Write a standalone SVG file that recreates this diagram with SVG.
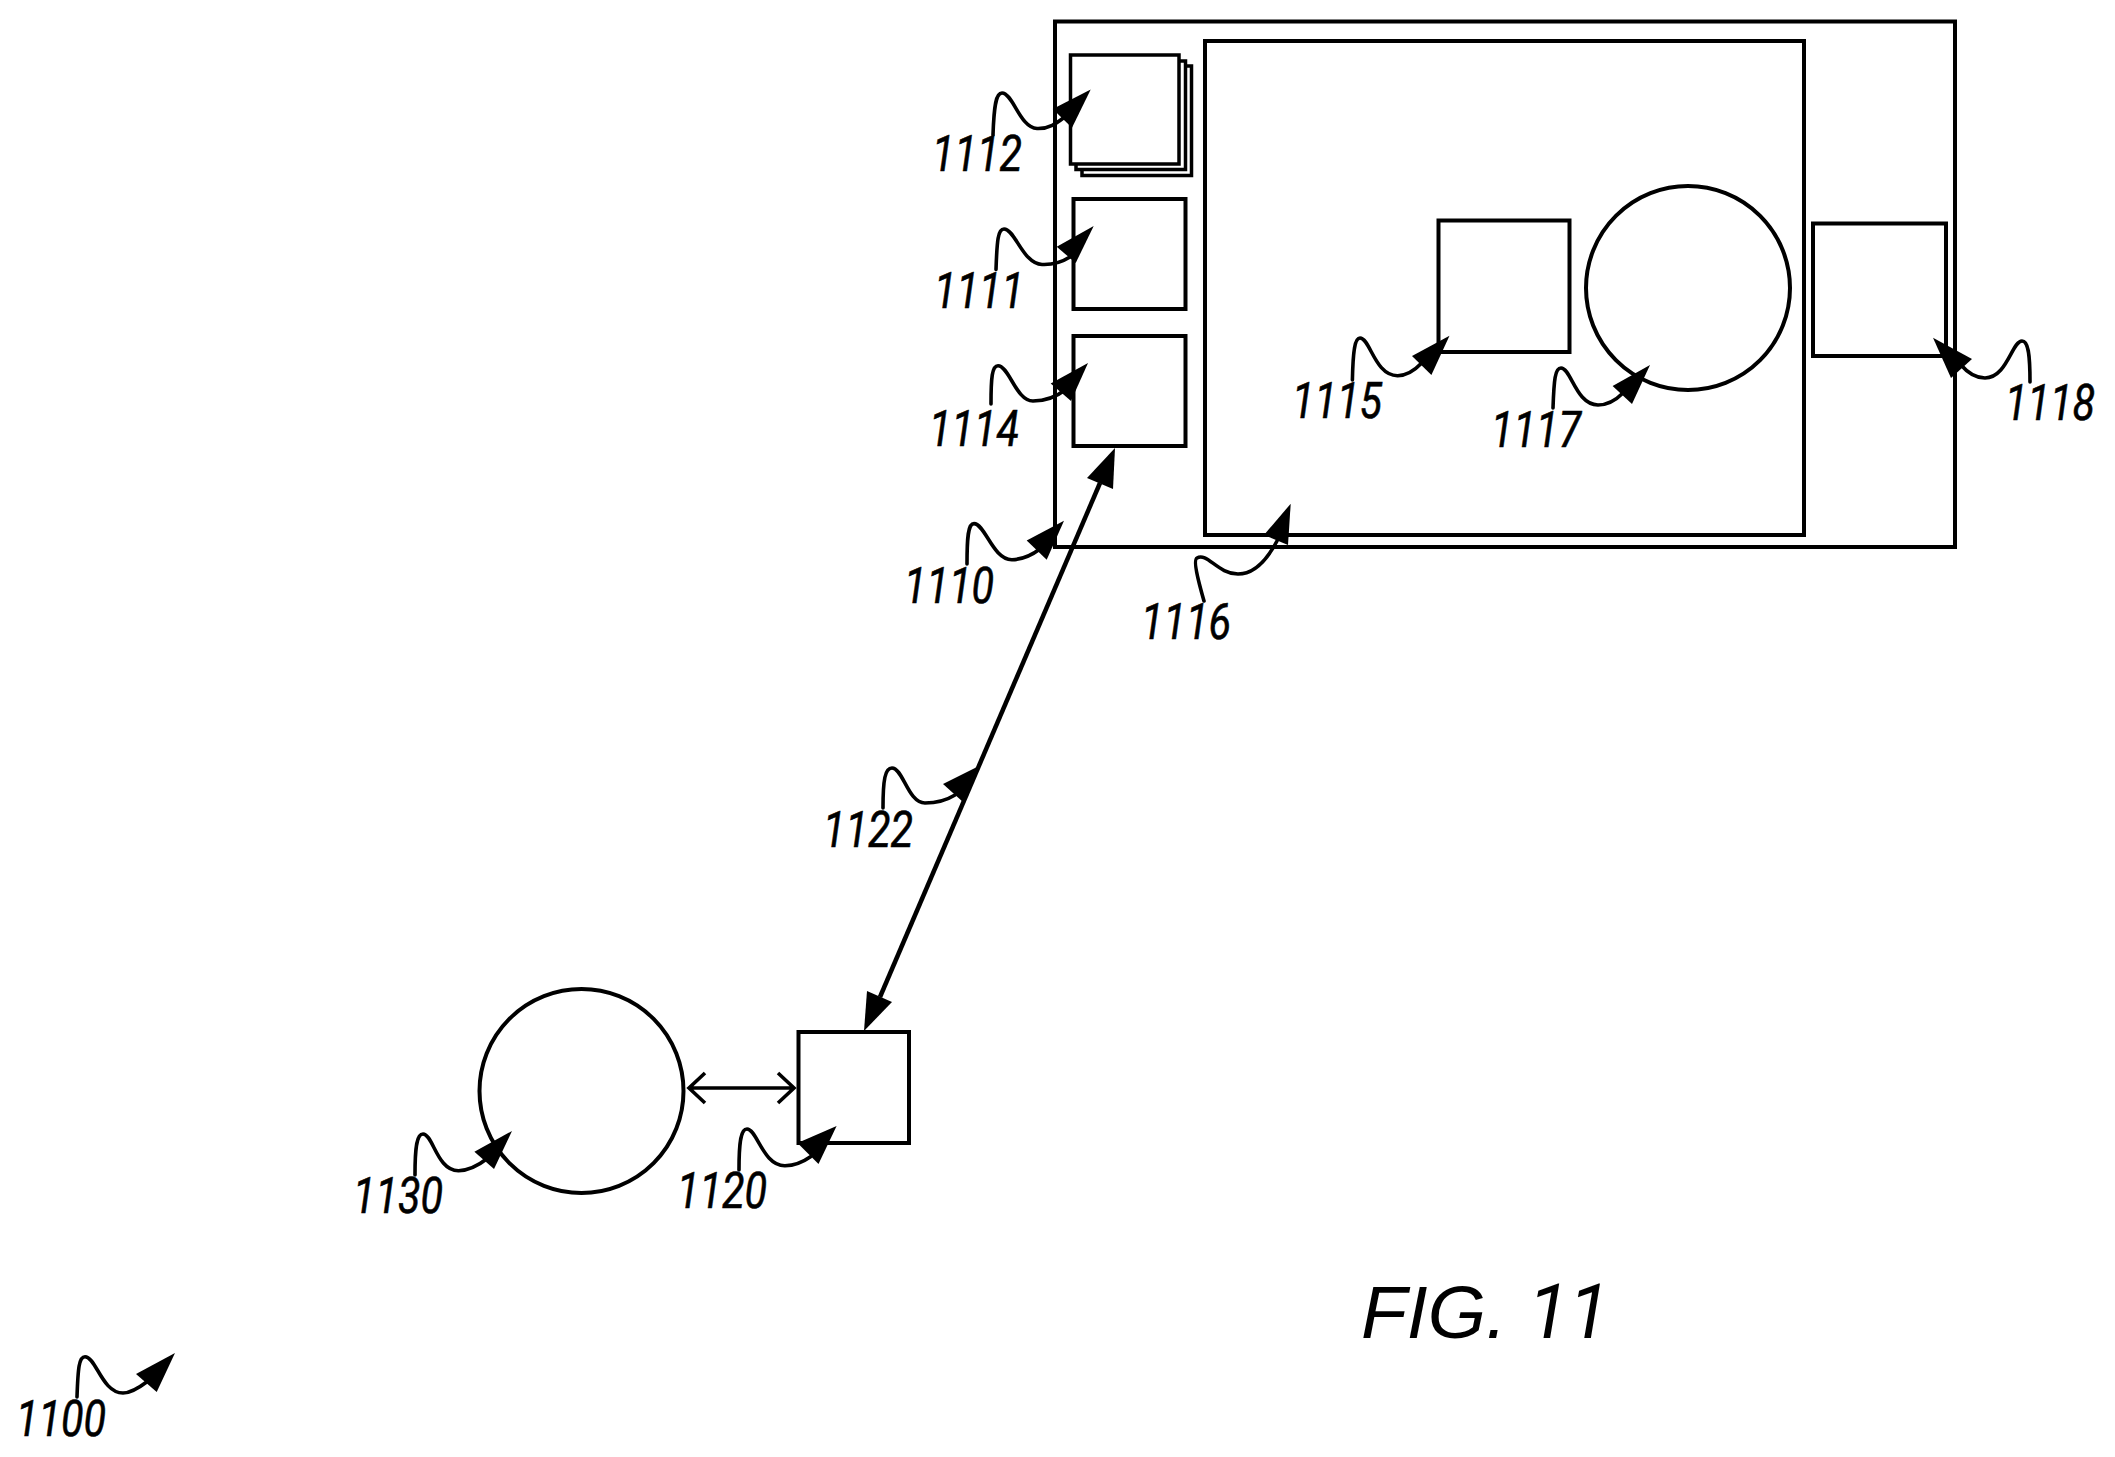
<svg xmlns="http://www.w3.org/2000/svg" width="2115" height="1457" viewBox="0 0 2115 1457">
<style>
.s{fill:none;stroke:#000;stroke-width:4}
.w{fill:#fff;stroke:#000;stroke-width:3.5}
.a{fill:none;stroke:#000;stroke-width:4.5}
.l{fill:none;stroke:#000;stroke-width:3.6;stroke-linecap:round}
.h{fill:#000;stroke:none}
.o{fill:none;stroke:#000;stroke-width:3.6}
text{font-family:Roboto,"Liberation Sans",Arial,sans-serif;font-style:italic;fill:#000}
.t{font-size:50px;stroke:#000;stroke-width:.6}
.f{font-size:75px}
.g{font-family:"Liberation Sans",Arial,sans-serif}
</style>
<rect width="2115" height="1457" fill="#fff"/>
<g id="node-1110"><rect class="s" x="1055" y="21.5" width="900" height="525.5"/></g>
<g id="node-1112">
<rect class="w" x="1082" y="66" width="109.5" height="109.5"/>
<rect class="w" x="1076" y="61" width="109.5" height="108.5"/>
<rect class="w" x="1070.5" y="55" width="108.5" height="109"/>
</g>
<g id="node-1111"><rect class="s" x="1073.5" y="199" width="112" height="110"/></g>
<g id="node-1114"><rect class="s" x="1073.5" y="336" width="112" height="110"/></g>
<g id="node-1116"><rect class="s" x="1205" y="41" width="599" height="494"/></g>
<g id="node-1115"><rect class="s" x="1438.5" y="220.5" width="131" height="131.5"/></g>
<g id="node-1117"><circle class="s" cx="1688" cy="288" r="102"/></g>
<g id="node-1118"><rect class="s" x="1813" y="223.5" width="133" height="132.5"/></g>
<g id="node-1120"><rect class="s" x="798.5" y="1032" width="110.5" height="111"/></g>
<g id="node-1130"><circle class="s" cx="581.5" cy="1091" r="102"/></g>
<g id="connectors">
<path class="a" d="M1100 483L880 997"/>
<polygon class="h" points="1115,448 1087,478 1113,489"/>
<polygon class="h" points="864,1031 867,991 892,1002"/>
<path class="o" d="M689 1088H794M705 1073L689 1088L705 1103M778 1073L794 1088L778 1103"/>
<path class="l" d="M993 135C994 105 996 93 1002 93C1013 93 1020 128 1037 128.5C1050 129 1058 122 1066 116"/>
<polygon class="h" points="1090.7,89.6 1052.7,109 1072,127.7"/>
<path class="l" d="M996 269.5C997 240 998 229 1004 229C1015 229 1023 264 1042 264.5C1053 265 1062 262 1070 257"/>
<polygon class="h" points="1093.7,226 1056.7,246.7 1075.7,263"/>
<path class="l" d="M991 404C991 378 992 365.7 998 365.7C1009 365.7 1016 401 1033 401C1045 401 1056 397 1065 390"/>
<polygon class="h" points="1088,363 1050.7,383.5 1071,401"/>
<path class="l" d="M967 564C967 537 968 523.6 974 523.6C985 523.6 993 560 1012 559.7C1022 559.5 1032 555 1040 549"/>
<polygon class="h" points="1064,520.7 1026.7,540.6 1046.7,559.7"/>
<path class="l" d="M1204 601C1198 580 1193 560 1197 558C1207 552 1218 574 1238 574C1255 574 1268 558 1277 541"/>
<polygon class="h" points="1290.7,503.7 1264,535 1288,545"/>
<path class="l" d="M1352.4 380C1353 350 1355 338 1360 338C1370 338 1375 376 1397.7 375.7C1407 375.5 1415 370 1421.7 363"/>
<polygon class="h" points="1449.5,335.7 1412,356 1431.4,375"/>
<path class="l" d="M1553 408C1554 380 1555 368 1561 368C1571 368 1576 405 1598 405C1607 405 1616 400 1623 393"/>
<polygon class="h" points="1650,365 1612.6,386 1632,404"/>
<path class="l" d="M2030 382C2030 353 2028 341 2022 341C2012 341 2007 378 1985 378C1976 378 1967 372 1961 365"/>
<polygon class="h" points="1933,337.7 1972,359 1951,378"/>
<path class="l" d="M883 808C883 780 885 768 892 768C903 768 908 803 925 803C937 803 947 800 955 795"/>
<polygon class="h" points="977,767 943,784 963,802"/>
<path class="l" d="M415 1175C415 1146 417 1134 423 1134C433 1134 437 1171 458.6 1170.7C468 1170.5 479 1165 488 1158"/>
<polygon class="h" points="512,1131 474.4,1151.7 494,1169"/>
<path class="l" d="M739 1170C739 1141 741 1129 747 1129C757 1129 763 1166 785 1165.7C794 1165.5 803 1162 810.5 1156.7"/>
<polygon class="h" points="836.6,1126 797.5,1143 818.5,1164"/>
<path class="l" d="M77 1397C78 1368 79 1356.7 85 1356.7C96 1356.7 102 1393 123 1393C131 1393 140 1387 147 1381.7"/>
<polygon class="h" points="175,1353 136,1374 156.7,1392"/>
</g>
<g id="labels">
<text class="t" x="932" y="170.5" textLength="90" lengthAdjust="spacingAndGlyphs">1112</text>
<text class="t" x="934" y="308" textLength="90" lengthAdjust="spacingAndGlyphs">1111</text>
<text class="t" x="929" y="445.5" textLength="90" lengthAdjust="spacingAndGlyphs">1114</text>
<text class="t" x="904" y="602.5" textLength="90" lengthAdjust="spacingAndGlyphs">1110</text>
<text class="t" x="1141" y="639" textLength="90" lengthAdjust="spacingAndGlyphs">1116</text>
<text class="t" x="1292" y="418" textLength="90" lengthAdjust="spacingAndGlyphs">1115</text>
<text class="t" x="1491" y="446.5" textLength="90" lengthAdjust="spacingAndGlyphs">1117</text>
<text class="t" x="2005" y="419.5" textLength="90" lengthAdjust="spacingAndGlyphs">1118</text>
<text class="t" x="823" y="846.5" textLength="90" lengthAdjust="spacingAndGlyphs">1122</text>
<text class="t" x="353" y="1213" textLength="90" lengthAdjust="spacingAndGlyphs">1130</text>
<text class="t" x="677" y="1207.5" textLength="90" lengthAdjust="spacingAndGlyphs">1120</text>
<text class="t" x="16" y="1435.5" textLength="90" lengthAdjust="spacingAndGlyphs">1100</text>
<text class="f" x="1361" y="1338"><tspan class="g">FIG. </tspan><tspan x="1528">11</tspan></text>
</g>
</svg>
